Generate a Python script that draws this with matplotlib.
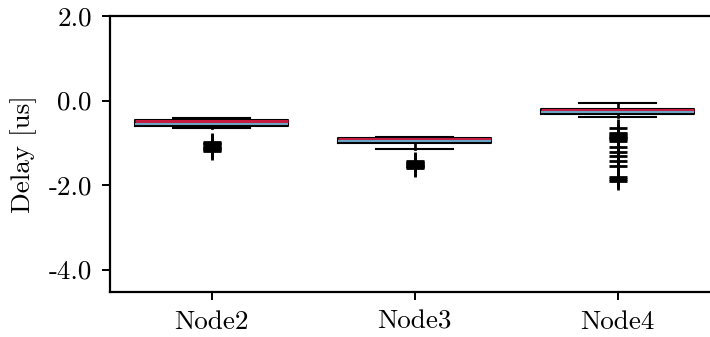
import matplotlib
matplotlib.use("Agg")
import matplotlib.pyplot as plt

plt.rcParams['font.family'] = 'serif'
plt.rcParams['font.serif'] = ['cmr10']
plt.rcParams['mathtext.fontset'] = 'cm'
plt.rcParams['axes.unicode_minus'] = False
plt.rcParams['axes.formatter.use_mathtext'] = True

# data
nodes = ["Node2", "Node3", "Node4"]
whislo = [-0.65, -1.14, -0.38]
q1 = [-0.60, -1.01, -0.32]
med = [-0.485, -0.92, -0.23]
mean = [-0.55, -0.96, -0.27]
q3 = [-0.46, -0.89, -0.19]
whishi = [-0.42, -0.87, -0.07]
fliers_node2 = [-0.99, -1.01, -1.03, -1.04, -1.09, -1.11, -1.13, -1.15, -1.17, -1.19]
fliers_node3 = [-1.44, -1.46, -1.48, -1.50, -1.52, -1.54, -1.56, -1.58, -1.60]
fliers_node4 = [-0.66, -0.77, -0.80, -0.83, -0.86, -0.89, -0.92, -0.95,
                -1.10, -1.21, -1.32, -1.44, -1.56, -1.81, -1.85, -1.90]
fliers = [fliers_node2, fliers_node3, fliers_node4]
yticks = [2.0, 0.0, -2.0, -4.0]
yticklabels = ["2.0", "0.0", "-2.0", "-4.0"]

stats = []
for i, n in enumerate(nodes):
    stats.append(dict(label=n, whislo=whislo[i], q1=q1[i], med=med[i], mean=mean[i],
                      q3=q3[i], whishi=whishi[i], fliers=fliers[i]))

fig = plt.figure(figsize=(7.1, 3.37), dpi=100)
ax = fig.add_axes([110/710, 1-292/337, 609/710, (292-16)/337])

lw = 1.5
ax.bxp(stats, positions=[1, 2, 3], widths=0.75, showmeans=True, meanline=True,
       boxprops=dict(color='black', linewidth=lw),
       whiskerprops=dict(color='black', linewidth=lw * 1.3),
       capprops=dict(color='black', linewidth=lw),
       medianprops=dict(color='#c8193f', linewidth=2.2),
       meanprops=dict(color='#6aa3c4', linestyle='-', linewidth=1.5),
       flierprops=dict(marker='+', markersize=13, markeredgewidth=2.0,
                       markeredgecolor='black', linestyle='none'))

ax.set_xlim(0.5, 3.5)
ax.set_ylim(-4.53, 2.0)
ax.set_yticks(yticks)
ax.set_yticklabels(yticklabels)
ax.set_xticks([1, 2, 3])
ax.set_xticklabels(nodes)
ax.tick_params(axis='both', labelsize=19.5, length=6, width=1.4, pad=7, direction='out')
ax.set_ylabel("Delay [us]", fontsize=19.5, labelpad=8)
for s in ax.spines.values():
    s.set_linewidth(1.6)

fig.savefig("out.png", dpi=100)
